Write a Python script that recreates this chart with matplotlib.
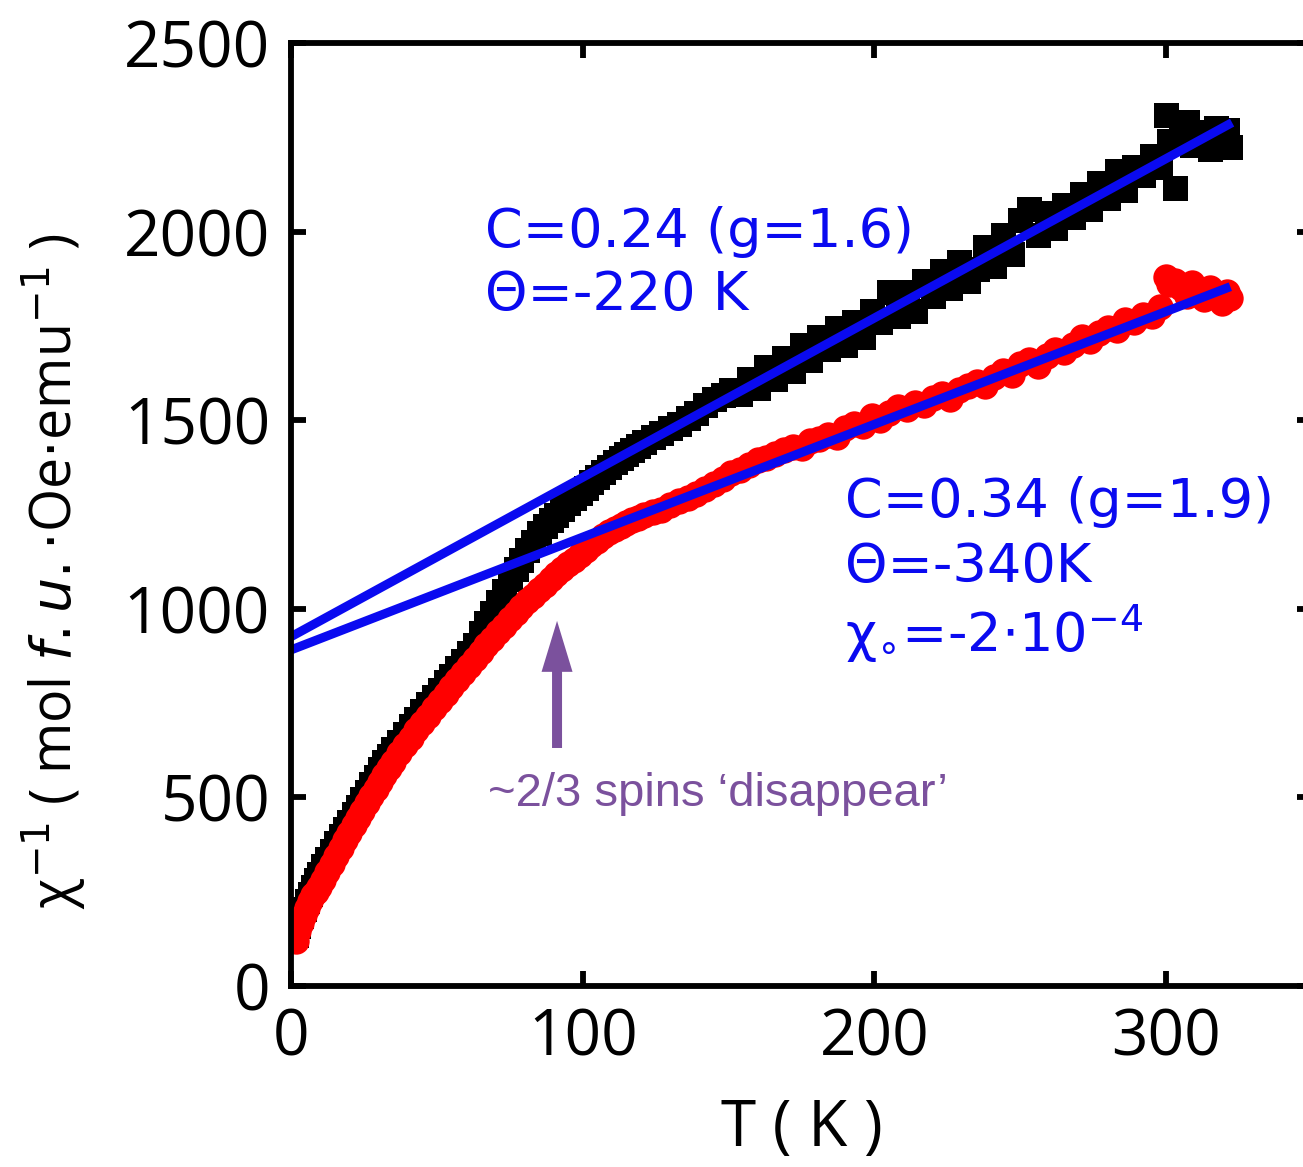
import numpy as np
import matplotlib
matplotlib.use("Agg")
import matplotlib.pyplot as plt
from matplotlib.patches import ArrowStyle

plt.rcParams['font.family'] = ['Open Sans', 'DejaVu Sans']
plt.rcParams['mathtext.fontset'] = 'dejavusans'

# sample 1 (black squares)
T_black = [1.8, 2.5, 3.5, 4.5, 5.5, 6.5, 7.5, 8.5, 9.5, 11, 12.5, 14, 15.5, 17, 18.5, 20, 21.5, 23, 24.5, 26,
           27.5, 29, 30.5, 32, 33.5, 35, 37, 39, 41, 43, 45, 47, 49, 51, 53, 55, 57, 59, 61, 63,
           65, 67, 69, 71, 73, 75, 77, 79, 81, 83, 85, 87, 89, 91, 93, 95, 97, 99, 101, 103,
           105, 107, 109, 111, 113, 115, 117, 119, 121, 124, 127, 130, 133, 136, 139, 142, 145, 148, 151, 154,
           157, 160, 163, 166, 169, 172, 175, 178, 181, 184, 187, 190, 193, 196, 199, 202, 205, 208, 211, 214,
           217, 220, 223, 226, 229, 232, 235, 238, 241, 244, 247, 250, 253, 256, 259, 262, 265, 268, 271, 274,
           277, 280, 283, 286, 289, 292, 295, 298, 300, 301, 303, 305, 307, 309, 311, 313, 315, 317, 319, 321, 322]
chi_black = [135, 160, 185, 205, 225, 245, 262, 280, 297, 318, 338, 358, 378, 398, 417, 436, 455, 475, 495, 515,
             535, 555, 575, 593, 610, 627, 648, 668, 688, 708, 728, 748, 766, 785, 805, 823, 843, 862, 882, 905,
             935, 962, 990, 1018, 1048, 1078, 1105, 1130, 1155, 1178, 1200, 1220, 1235, 1250, 1265, 1280, 1294, 1307, 1321, 1335,
             1349, 1362, 1375, 1388, 1400, 1411, 1422, 1432, 1442, 1455, 1466, 1478, 1490, 1505, 1520, 1540, 1556, 1568, 1580, 1570,
             1610, 1585, 1640, 1610, 1665, 1630, 1700, 1660, 1720, 1690, 1745, 1700, 1760, 1720, 1790, 1760, 1840, 1775, 1840, 1790,
             1870, 1830, 1895, 1850, 1920, 1870, 1900, 1960, 1910, 1990, 1940, 2030, 2060, 1990, 2050, 2010, 2070, 2040, 2100, 2060,
             2130, 2090, 2160, 2110, 2170, 2150, 2200, 2170, 2310, 2240, 2115, 2280, 2290, 2230, 2265, 2250, 2220, 2275, 2240, 2270, 2225]

# sample 2 (red circles)
T_red = [1.8, 2.5, 3.5, 4.5, 5.5, 6.5, 7.5, 8.5, 9.5, 11, 12.5, 14, 15.5, 17, 18.5, 20, 21.5, 23, 24.5, 26,
         27.5, 29, 30.5, 32, 33.5, 35, 37, 39, 41, 43, 45, 47, 49, 51, 53, 55, 57, 59, 61, 63,
         65, 67, 69, 71, 73, 75, 77, 79, 81, 83, 85, 87, 89, 91, 93, 95, 97, 99, 101, 103,
         105, 107, 109, 111, 113, 115, 117, 119, 121, 124, 127, 130, 133, 136, 139, 142, 145, 148, 151, 154,
         157, 160, 163, 166, 169, 172, 175, 178, 181, 184, 187, 190, 193, 196, 199, 202, 205, 208, 211, 214,
         217, 220, 223, 226, 229, 232, 235, 238, 241, 244, 247, 250, 253, 256, 259, 262, 265, 268, 271, 274,
         277, 280, 283, 286, 289, 292, 295, 298, 300, 301, 303, 305, 307, 309, 311, 313, 315, 317, 319, 321, 322]
chi_red = [120, 145, 168, 188, 207, 225, 240, 250, 262, 282, 303, 324, 345, 366, 386, 406, 426, 446, 465, 484,
           503, 522, 541, 560, 578, 595, 617, 638, 658, 678, 698, 717, 736, 755, 774, 793, 812, 830, 848, 866,
           885, 903, 921, 938, 955, 972, 989, 1005, 1020, 1035, 1050, 1064, 1078, 1092, 1105, 1118, 1130, 1142, 1155, 1168,
           1180, 1192, 1203, 1212, 1220, 1228, 1236, 1242, 1248, 1256, 1262, 1275, 1285, 1295, 1305, 1318, 1330, 1345, 1360, 1368,
           1380, 1395, 1400, 1410, 1420, 1430, 1425, 1445, 1450, 1460, 1455, 1480, 1490, 1485, 1510, 1500, 1520, 1535, 1530, 1545,
           1540, 1560, 1570, 1555, 1580, 1590, 1600, 1590, 1615, 1630, 1620, 1650, 1660, 1645, 1670, 1685, 1680, 1700, 1720, 1710,
           1730, 1745, 1740, 1765, 1760, 1780, 1775, 1800, 1880, 1860, 1870, 1850, 1830, 1865, 1845, 1820, 1850, 1830, 1810, 1840, 1825]

# Curie-Weiss fits (straight lines)
fit1_T = [0, 322.6]
fit1_chi = [926, 2289]
fit2_T = [0, 322]
fit2_chi = [891, 1854]

W, H = 1303, 1167
blue = '#0a0af0'
purple = '#7b519d'

fig = plt.figure(figsize=(W / 100, H / 100), dpi=100)
ax = fig.add_axes([291 / W, 1 - 986 / H, 1021 / W, 943 / H])

ax.plot(T_black, chi_black, ls='none', marker='s', ms=18, color='black', mec='black', mew=0)
ax.plot(T_red, chi_red, ls='none', marker='o', ms=19, color='#ff0000', mec='#ff0000', mew=0)
ax.plot(fit1_T, fit1_chi, color=blue, lw=6.5, solid_capstyle='butt')
ax.plot(fit2_T, fit2_chi, color=blue, lw=6.5, solid_capstyle='butt')

ax.set_xlim(0, 350)
ax.set_ylim(0, 2500)
ax.set_xticks([0, 100, 200, 300])
ax.set_yticks([0, 500, 1000, 1500, 2000, 2500])
for s in ax.spines.values():
    s.set_linewidth(4.2)
ax.tick_params(direction='in', length=11, width=4.2, top=True, right=True, labelsize=46)
ax.tick_params(axis='y', pad=15)
ax.tick_params(axis='x', pad=15)

ax.set_xlabel('T ( K )', fontsize=46)
ax.xaxis.set_label_coords(0.5, -0.118)
ax.set_ylabel('\u03c7$^{-1}$ ( mol $\\it{f.u.}$$\\cdot$Oe$\\cdot$emu$^{-1}$ )', fontsize=40)
ax.yaxis.set_label_coords(-0.199, 0.44)

# arrow + note
ax.annotate('', xy=(91.2, 968), xytext=(91.2, 631),
            arrowprops=dict(arrowstyle=ArrowStyle('simple', head_length=36.7, head_width=22.3, tail_width=7.2),
                            mutation_scale=1, lw=0, fc=purple, ec='none', shrinkA=0, shrinkB=0))


def fpos(x, y):
    return x / W, 1 - y / H


fig.text(*fpos(488, 806), '~2/3 spins \u2018disappear\u2019', color=purple, fontsize=34,
         family='Liberation Sans', va='baseline')

fig.text(*fpos(485, 247), 'C=0.24 (g=1.6)', color=blue, fontsize=39, family='DejaVu Sans', va='baseline')
fig.text(*fpos(485, 310), '\u0398=-220 K', color=blue, fontsize=39, family='DejaVu Sans', va='baseline')
fig.text(*fpos(845, 517), 'C=0.34 (g=1.9)', color=blue, fontsize=39, family='DejaVu Sans', va='baseline')
fig.text(*fpos(845, 582), '\u0398=-340K', color=blue, fontsize=39, family='DejaVu Sans', va='baseline')
fig.text(*fpos(845, 652), '\u03c7$_{\\circ}$=-2$\\cdot$10$^{-4}$',
         color=blue, fontsize=39, family='DejaVu Sans', va='baseline')

plt.savefig('out.png', dpi=100)
